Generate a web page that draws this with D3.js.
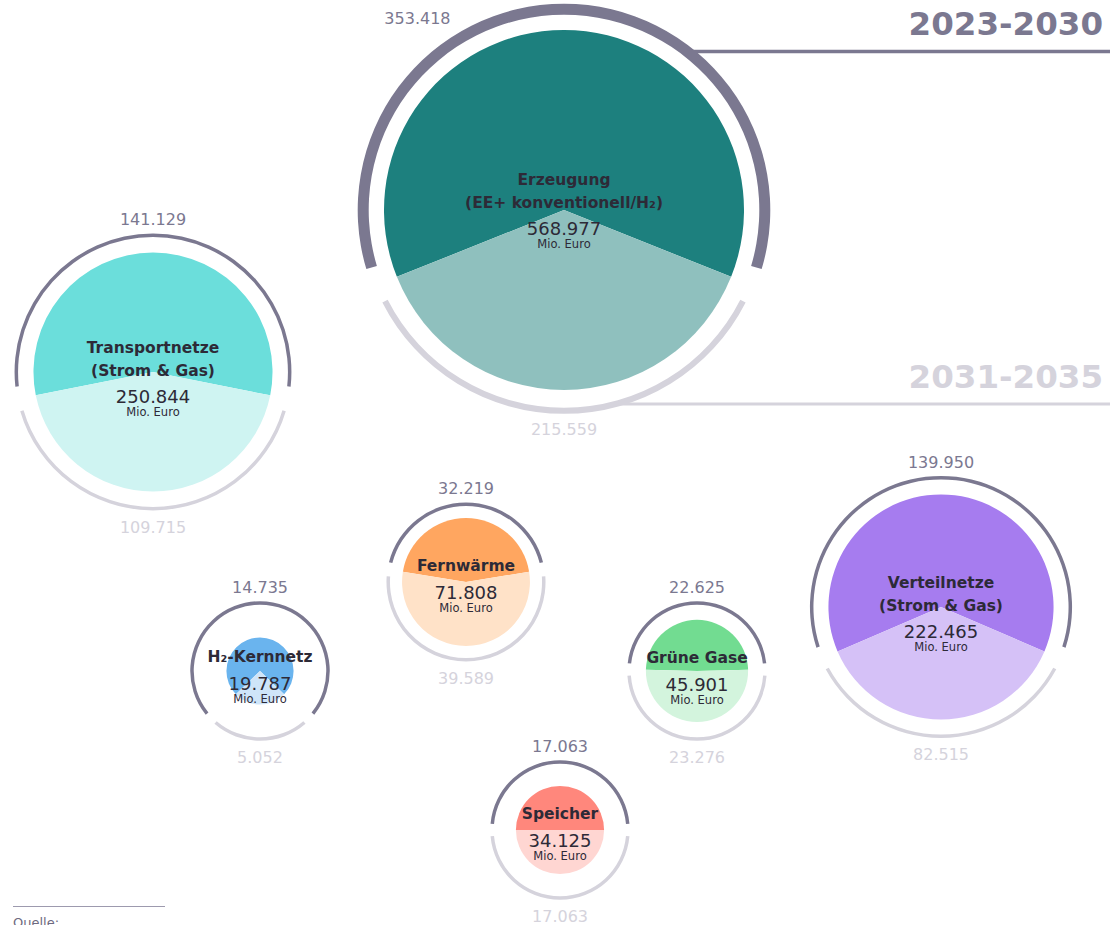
<!DOCTYPE html>
<html>
<head>
<meta charset="utf-8">
<script src="https://cdn.jsdelivr.net/npm/d3@7"></script>
<style>
  body { margin: 0; background: #fff; }
  svg { display: block; font-family: "DejaVu Sans", sans-serif; }
</style>
</head>
<body>
<svg width="1110" height="925"></svg>
<script>
// Investitionen in Mio. Euro
var categories = ["Erzeugung (EE+ konventionell/H₂)", "Transportnetze (Strom & Gas)", "H₂-Kernnetz",
  "Fernwärme", "Grüne Gase", "Verteilnetze (Strom & Gas)", "Speicher"];
var periods = ["2023-2030", "2031-2035"];
var values2030 = [353418, 141129, 14735, 32219, 22625, 139950, 17063];
var values2035 = [215559, 109715, 5052, 39589, 23276, 82515, 17063];
var totals = [568977, 250844, 19787, 71808, 45901, 222465, 34125];

// farben
var darkColors = ["#1d807e", "#6bdedb", "#6ab4ee", "#ffa660", "#72dc91", "#a67cef", "#ff877c"];
var lightColors = ["#8fc0be", "#cff4f2", "#cfe5f9", "#ffe2c8", "#d3f4dd", "#d5c1f7", "#ffd6d2"];
var ringDark = "#7b7890", ringLight = "#d5d3dc", textDark = "#2d2a37";

// position der kreise
var layout = [
  { cx: 564, cy: 210, dy: -6 },
  { cx: 153, cy: 372, dy: 0 },
  { cx: 260, cy: 671, dy: 1 },
  { cx: 466, cy: 582, dy: -1 },
  { cx: 697, cy: 671, dy: 2 },
  { cx: 941, cy: 607, dy: 0 },
  { cx: 560, cy: 830, dy: -1 }
];

var svg = d3.select("svg");
var fmt = d3.formatLocale({ decimal: ",", thousands: ".", grouping: [3], currency: ["", "€"] }).format(",d");

var r = d3.scaleSqrt().domain([0, d3.max(totals)]).range([0, 180]);
function ringR(i) { return Math.max(68, r(totals[i]) * 1.06 + 10); }

var arc = d3.arc();
var pad = 0.09;

var g = svg.selectAll("g.bubble")
  .data(categories)
  .enter()
  .append("g")
  .attr("class", "bubble")
  .attr("transform", function (d, i) { return "translate(" + layout[i].cx + "," + layout[i].cy + ")"; });

g.each(function (d, i) {
  var el = d3.select(this);
  var share = values2035[i] / (values2030[i] + values2035[i]);
  var a0 = Math.PI - Math.PI * share, a1 = Math.PI + Math.PI * share;
  var rad = r(totals[i]);
  var R = ringR(i);
  var wDark = i == 0 ? 11 : 3.5, wLight = i == 0 ? 6 : 3.5;

  // kreis (dunkel = 2023-2030, hell = 2031-2035)
  el.append("path")
    .attr("d", arc({ innerRadius: 0, outerRadius: rad, startAngle: a1, endAngle: a0 + 2 * Math.PI }))
    .attr("fill", darkColors[i]);
  el.append("path")
    .attr("d", arc({ innerRadius: 0, outerRadius: rad, startAngle: a0, endAngle: a1 }))
    .attr("fill", lightColors[i]);

  // ringe
  el.append("path")
    .attr("d", arc({ innerRadius: R - wDark / 2, outerRadius: R + wDark / 2, startAngle: a1 + pad, endAngle: a0 + 2 * Math.PI - pad }))
    .attr("fill", ringDark);
  el.append("path")
    .attr("d", arc({ innerRadius: R - wLight / 2, outerRadius: R + wLight / 2, startAngle: a0 + pad, endAngle: a1 - pad }))
    .attr("fill", ringLight);

  // werte aussen
  var topY = -R - 10, topX = 0;
  if (layout[i].cy + topY < 24) { topY = 24 - layout[i].cy; topX = -R * 0.73; }
  el.append("text")
    .attr("x", topX).attr("y", topY)
    .attr("text-anchor", "middle")
    .attr("font-size", "16px")
    .attr("fill", ringDark)
    .text(fmt(values2030[i]));
  el.append("text")
    .attr("x", 0).attr("y", R + 24)
    .attr("text-anchor", "middle")
    .attr("font-size", "16px")
    .attr("fill", ringLight)
    .text(fmt(values2035[i]));

  // beschriftung innen
  var lines = d.indexOf(" (") > 0 ? [d.slice(0, d.indexOf(" (")), d.slice(d.indexOf(" (") + 1)] : [d];
  var off = layout[i].dy;
  var nameY = lines.length == 2 ? [-19, 4] : [-10];
  var valY = lines.length == 2 ? 31 : 18;
  lines.forEach(function (line, k) {
    el.append("text")
      .attr("y", nameY[k] + off)
      .attr("text-anchor", "middle")
      .attr("font-size", "15.5px")
      .attr("font-weight", "bold")
      .attr("fill", textDark)
      .text(line);
  });
  el.append("text")
    .attr("y", valY + off)
    .attr("text-anchor", "middle")
    .attr("font-size", "18px")
    .attr("fill", textDark)
    .text(fmt(totals[i]));
  el.append("text")
    .attr("y", valY + 13 + off)
    .attr("text-anchor", "middle")
    .attr("font-size", "11.5px")
    .attr("fill", textDark)
    .text("Mio. Euro");
});

// zeitraum überschriften mit linien
var R0 = ringR(0), c0 = layout[0];
var lineY = [51.5, 404];
var headY = [35, 388];
[ringDark, ringLight].forEach(function (col, k) {
  var dy = lineY[k] - c0.cy;
  var x0 = c0.cx + Math.sqrt(Math.max(0, R0 * R0 - dy * dy));
  svg.append("line")
    .attr("x1", x0).attr("x2", 1110)
    .attr("y1", lineY[k]).attr("y2", lineY[k])
    .attr("stroke", col)
    .attr("stroke-width", k == 0 ? 3.5 : 3);
  svg.append("text")
    .attr("x", 1103).attr("y", headY[k])
    .attr("text-anchor", "end")
    .attr("font-size", "32.5px")
    .attr("font-weight", "bold")
    .attr("fill", col)
    .text(periods[k]);
});

// quelle
svg.append("line")
  .attr("x1", 13).attr("x2", 165)
  .attr("y1", 906.5).attr("y2", 906.5)
  .attr("stroke", "#9d9aae")
  .attr("stroke-width", 1.2);
svg.append("text")
  .attr("x", 13).attr("y", 927)
  .attr("font-size", "13px")
  .attr("fill", "#6e6a80")
  .text("Quelle:");
</script>
</body>
</html>
